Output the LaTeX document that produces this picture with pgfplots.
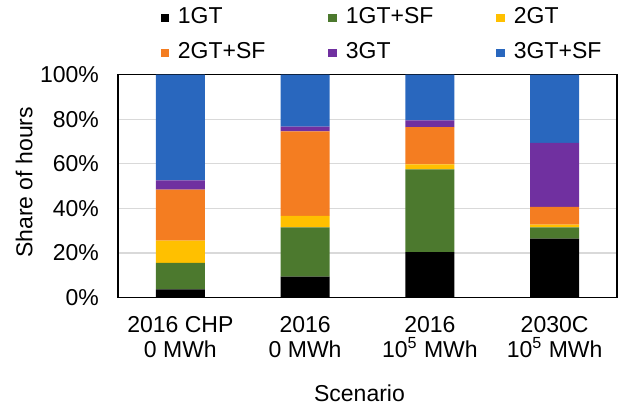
\documentclass[border=0pt]{standalone}
\usepackage{fontspec}
\setmainfont{Liberation Sans}
\usepackage{pgfplots}
\usepackage{pgfplotstable}
\pgfplotsset{compat=1.18}
\definecolor{cA}{HTML}{000000}
\definecolor{cB}{HTML}{4C792E}
\definecolor{cC}{HTML}{FFC000}
\definecolor{cD}{HTML}{F47D21}
\definecolor{cE}{HTML}{7030A0}
\definecolor{cF}{HTML}{2967BE}
\definecolor{gridc}{HTML}{D9D9D9}
\pgfplotstableread{
x  a    b    c    d    e    f
0  3.6  11.9 10.0 22.9 4.1  47.5
1  9.4  22.1 5.1  37.9 2.1  23.4
2  20.4 37.1 2.2  16.7 3.0  20.6
3  26.4 5.1  1.2  7.9  28.8 30.6
}\datatable
\newcommand{\fs}{\fontsize{11.5}{12.5}\selectfont}
\begin{document}
\begin{tikzpicture}
\path (-59pt,-56.5pt) rectangle (250pt,148.5pt);
\begin{axis}[
  at={(0,0)}, anchor=south west,
  scale only axis, width=249.5pt, height=111.5pt,
  ybar stacked, bar width=24.5pt,
  xmin=-0.5, xmax=3.5, ymin=0, ymax=100,
  xtick=data,
  xticklabels={{2016 CHP\\0 MWh},{2016\\0 MWh},{2016\\10\textsuperscript{5} MWh},{2030C\\10\textsuperscript{5} MWh}},
  xticklabel style={align=center, font=\fs, yshift=-6pt},
  ytick={0,20,40,60,80,100},
  yticklabel={\pgfmathprintnumber{\tick}\%},
  yticklabel style={font=\fs, xshift=-6pt},
  /pgf/number format/assume math mode=true,
  major tick style={draw=none},
  ymajorgrids, grid style={gridc, line width=0.6pt},
  axis line style={black, line width=0.8pt},
  xlabel={Scenario}, ylabel={Share of hours},
  label style={font=\fs},
  xlabel style={at={(axis description cs:0.5,0)}, anchor=center, yshift=-48pt, xshift=-4pt},
  ylabel style={at={(axis description cs:-0.188,0.516)}, anchor=center},
  legend columns=3,
  legend cell align=left,
  legend style={at={(axis description cs:0.53,1.175)}, anchor=center, draw=none,
    font=\fs, row sep=3.5pt,
    nodes={text height=8.5pt, text depth=2.5pt, inner sep=1.5pt},
    /tikz/every odd column/.style={column sep=3pt},
    /tikz/every even column/.style={column sep=30pt}},
  legend image code/.code={\fill[#1] (0pt,-2.1pt) rectangle (4.2pt,2.1pt);},
]
\addplot[fill=cA, draw=none] table[x=x,y=a]{\datatable};
\addplot[fill=cB, draw=none] table[x=x,y=b]{\datatable};
\addplot[fill=cC, draw=none] table[x=x,y=c]{\datatable};
\addplot[fill=cD, draw=none] table[x=x,y=d]{\datatable};
\addplot[fill=cE, draw=none] table[x=x,y=e]{\datatable};
\addplot[fill=cF, draw=none] table[x=x,y=f]{\datatable};
\legend{1GT,1GT+SF,2GT,2GT+SF,3GT,3GT+SF}
\end{axis}
\end{tikzpicture}
\end{document}
